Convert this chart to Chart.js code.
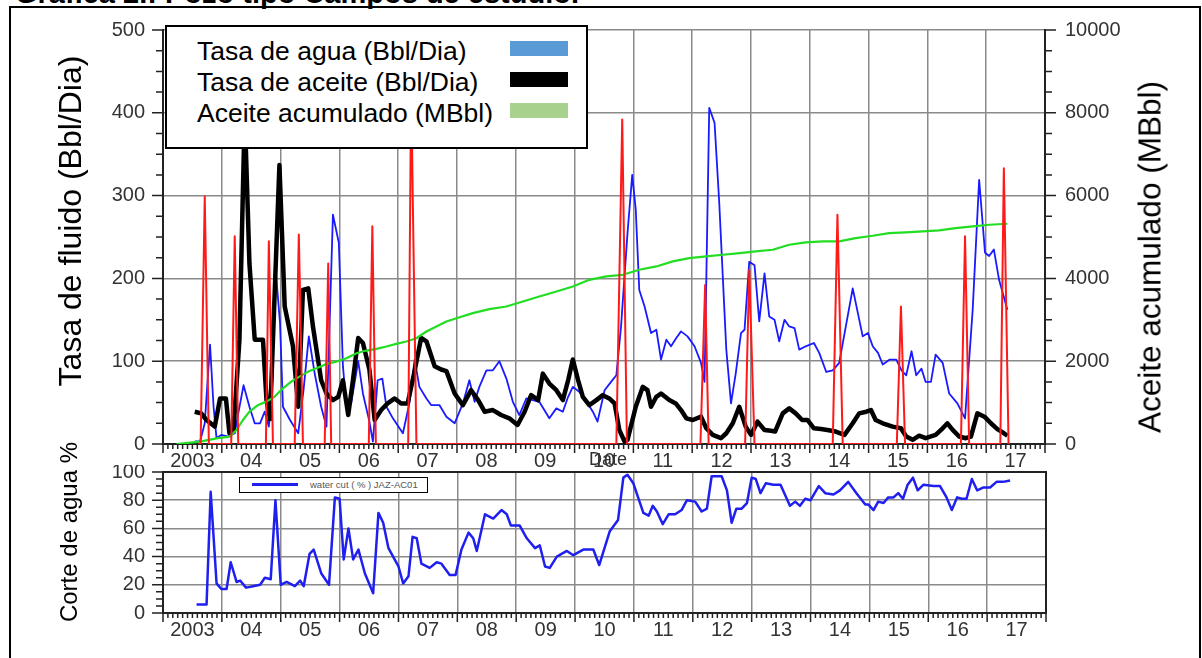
<!DOCTYPE html>
<html lang="es">
<head>
<meta charset="utf-8">
<title>Pozo tipo - Campos de estudio</title>
<script src="https://cdn.jsdelivr.net/npm/chart.js@4.4.0/dist/chart.umd.min.js"></script>
<style>
  html, body { margin: 0; padding: 0; background: #fff; overflow: hidden; }
  body { width: 1202px; height: 658px; position: relative; font-family: 'Liberation Sans', Arial, sans-serif; }
  .marco { position: absolute; left: 9px; top: 6px; width: 1192px; height: 720px; border: 2px solid #000; box-sizing: border-box; }
  .titulo { position: absolute; left: 15px; top: -21px; font-size: 29px; line-height: 29px; font-weight: bold; white-space: nowrap; }
  .caja { position: absolute; }
  #sup { left: 0; top: 0; width: 1202px; height: 490px; }
  #inf { left: 0; top: 465px; width: 1202px; height: 193px; }
  .rot { position: absolute; white-space: nowrap; transform: translate(-50%, -50%) rotate(-90deg); color: #000; }
  .leyenda { position: absolute; left: 165px; top: 25px; width: 423px; height: 124px; border: 2px solid #000; background: #fff; box-sizing: border-box; font-size: 26.5px; line-height: 31px; padding-top: 9px; }
  .fila { position: relative; padding-left: 30px; white-space: nowrap; }
  .muestra { position: absolute; left: 343px; top: 5px; width: 58px; height: 15px; }
  .ley2 { position: absolute; left: 239px; top: 477px; width: 189px; height: 16px; border: 1.5px solid #000; background: #fff; box-sizing: border-box; }
  .ley2 .linea { position: absolute; left: 12px; top: 5px; width: 46px; height: 3px; background: #1f1fef; }
  .ley2 .txt { position: absolute; left: 70px; top: 1px; font-size: 9.5px; line-height: 11px; color: #555; white-space: nowrap; }
  .fecha { position: absolute; left: 589px; top: 449px; font-size: 18px; line-height: 20px; color: #333; }
</style>
</head>
<body>
<div class="titulo">Gráfica 2.: Pozo tipo Campos de estudio.</div>
<div class="marco"></div>
<div class="caja" id="sup"><canvas id="graficaSuperior"></canvas></div>
<div class="caja" id="inf"><canvas id="graficaInferior"></canvas></div>

<div class="rot" style="left:70px; top:221px; font-size:32px;">Tasa de fluido (Bbl/Dia)</div>
<div class="rot" style="left:1150px; top:257px; font-size:31.5px;">Aceite acumulado (MBbl)</div>
<div class="rot" style="left:69px; top:532px; font-size:24px;">Corte de agua %</div>

<div class="leyenda">
  <div class="fila">Tasa de agua (Bbl/Dia)<span class="muestra" style="background:#5b9bd5"></span></div>
  <div class="fila">Tasa de aceite (Bbl/Dia)<span class="muestra" style="background:#000"></span></div>
  <div class="fila">Aceite acumulado (MBbl)<span class="muestra" style="background:#a9d18e"></span></div>
</div>
<div class="ley2"><span class="linea"></span><span class="txt">water cut ( % ) JAZ-AC01</span></div>
<div class="fecha">Date</div>

<script>
// --- datos (x en años decimales) ---
const etiquetasAnio = ['2003', '04', '05', '06', '07', '08', '09', '10', '11', '12', '13', '14', '15', '16', '17'];

const aguaAnios = [2003.54, 2003.63, 2003.71, 2003.80, 2003.86, 2003.91, 2003.99, 2004.11, 2004.22, 2004.28, 2004.37, 2004.47, 2004.56, 2004.65, 2004.73, 2004.80, 2004.86, 2004.91, 2004.99, 2005.04, 2005.16, 2005.30, 2005.39, 2005.48, 2005.58, 2005.69, 2005.78, 2005.89, 2005.99, 2006.06, 2006.12, 2006.20, 2006.32, 2006.40, 2006.51, 2006.57, 2006.65, 2006.73, 2006.80, 2006.91, 2007.08, 2007.19, 2007.28, 2007.36, 2007.48, 2007.56, 2007.70, 2007.82, 2007.96, 2008.10, 2008.21, 2008.30, 2008.38, 2008.50, 2008.61, 2008.72, 2008.84, 2008.95, 2009.06, 2009.18, 2009.29, 2009.40, 2009.57, 2009.69, 2009.80, 2009.89, 2009.97, 2010.08, 2010.19, 2010.31, 2010.39, 2010.51, 2010.62, 2010.71, 2010.79, 2010.90, 2010.98, 2011.04, 2011.10, 2011.19, 2011.30, 2011.39, 2011.47, 2011.56, 2011.64, 2011.73, 2011.81, 2011.92, 2012.04, 2012.15, 2012.21, 2012.29, 2012.38, 2012.46, 2012.58, 2012.66, 2012.74, 2012.83, 2012.89, 2012.97, 2013.06, 2013.14, 2013.23, 2013.31, 2013.40, 2013.48, 2013.57, 2013.65, 2013.74, 2013.82, 2013.93, 2014.07, 2014.16, 2014.28, 2014.39, 2014.50, 2014.73, 2014.90, 2014.99, 2015.07, 2015.16, 2015.24, 2015.36, 2015.47, 2015.56, 2015.64, 2015.73, 2015.81, 2015.90, 2015.97, 2016.06, 2016.14, 2016.26, 2016.37, 2016.51, 2016.64, 2016.77, 2016.88, 2016.98, 2017.05, 2017.13, 2017.22, 2017.36];
const aguaTasa = [3, 3, 25, 120, 45, 7, 11, 9, 13, 37, 71, 45, 25, 25, 39, 21, 77, 216, 146, 45, 29, 13, 65, 130, 85, 45, 21, 277, 243, 94, 45, 49, 100, 61, 27, 3, 77, 79, 45, 31, 13, 49, 102, 69, 55, 47, 47, 33, 25, 49, 77, 51, 69, 89, 89, 100, 79, 51, 35, 55, 53, 51, 31, 43, 39, 57, 69, 63, 53, 39, 27, 65, 75, 83, 142, 255, 325, 283, 186, 166, 134, 138, 102, 126, 118, 128, 136, 130, 118, 98, 75, 406, 388, 291, 114, 49, 85, 134, 138, 220, 216, 148, 206, 154, 150, 124, 150, 142, 140, 114, 118, 122, 110, 87, 89, 98, 188, 130, 134, 118, 110, 96, 102, 102, 89, 83, 112, 83, 91, 75, 75, 108, 98, 61, 49, 31, 162, 319, 231, 227, 235, 198, 162];

const aceiteAnios = [2003.54, 2003.65, 2003.74, 2003.88, 2003.97, 2004.07, 2004.13, 2004.20, 2004.30, 2004.39, 2004.47, 2004.56, 2004.70, 2004.76, 2004.82, 2004.98, 2005.07, 2005.21, 2005.30, 2005.38, 2005.47, 2005.55, 2005.69, 2005.78, 2005.89, 2005.98, 2006.06, 2006.15, 2006.23, 2006.32, 2006.40, 2006.51, 2006.60, 2006.71, 2006.82, 2006.94, 2007.05, 2007.16, 2007.27, 2007.39, 2007.48, 2007.62, 2007.73, 2007.82, 2007.96, 2008.10, 2008.24, 2008.36, 2008.47, 2008.61, 2008.75, 2008.89, 2009.03, 2009.15, 2009.26, 2009.38, 2009.46, 2009.57, 2009.69, 2009.80, 2009.89, 2009.97, 2010.06, 2010.14, 2010.25, 2010.37, 2010.48, 2010.59, 2010.68, 2010.76, 2010.85, 2010.90, 2011.04, 2011.16, 2011.24, 2011.30, 2011.39, 2011.47, 2011.61, 2011.72, 2011.81, 2011.90, 2012.01, 2012.15, 2012.24, 2012.35, 2012.49, 2012.58, 2012.69, 2012.80, 2012.91, 2013.00, 2013.11, 2013.23, 2013.34, 2013.41, 2013.54, 2013.65, 2013.76, 2013.87, 2013.96, 2014.07, 2014.19, 2014.30, 2014.44, 2014.59, 2014.73, 2014.84, 2014.96, 2015.04, 2015.12, 2015.24, 2015.41, 2015.55, 2015.64, 2015.75, 2015.86, 2015.97, 2016.14, 2016.26, 2016.34, 2016.43, 2016.54, 2016.65, 2016.74, 2016.85, 2016.97, 2017.08, 2017.19, 2017.28, 2017.36];
const aceiteTasa = [39, 37, 29, 21, 55, 55, 13, 17, 126, 400, 218, 126, 126, 53, 30, 337, 166, 118, 45, 186, 188, 142, 77, 61, 53, 57, 77, 35, 77, 128, 122, 90, 29, 41, 49, 55, 49, 49, 85, 128, 124, 94, 90, 88, 61, 47, 65, 53, 39, 41, 35, 31, 23, 39, 59, 53, 85, 73, 65, 53, 77, 102, 77, 57, 47, 53, 59, 55, 49, 17, 3, 5, 45, 69, 65, 45, 57, 61, 53, 49, 41, 31, 29, 33, 19, 11, 7, 13, 25, 45, 21, 11, 27, 17, 16, 15, 37, 43, 37, 29, 29, 19, 18, 17, 15, 11, 25, 37, 39, 41, 29, 25, 21, 19, 9, 5, 10, 7, 11, 19, 25, 17, 9, 7, 9, 37, 33, 25, 18, 14, 10];

const acumAnios = [2003.23, 2003.63, 2003.91, 2004.13, 2004.25, 2004.36, 2004.47, 2004.62, 2004.76, 2004.90, 2005.04, 2005.18, 2005.32, 2005.47, 2005.61, 2005.78, 2005.95, 2006.12, 2006.29, 2006.46, 2006.63, 2006.80, 2006.97, 2007.14, 2007.31, 2007.48, 2007.65, 2007.82, 2007.99, 2008.27, 2008.55, 2008.84, 2009.12, 2009.40, 2009.69, 2009.97, 2010.25, 2010.54, 2010.82, 2011.10, 2011.39, 2011.67, 2011.95, 2012.24, 2012.52, 2012.81, 2013.08, 2013.37, 2013.65, 2013.93, 2014.22, 2014.50, 2014.78, 2015.07, 2015.35, 2015.63, 2015.92, 2016.20, 2016.48, 2016.77, 2017.05, 2017.36];
const acumVal = [0, 56, 137, 177, 339, 580, 782, 943, 1024, 1145, 1346, 1507, 1628, 1749, 1830, 1935, 1991, 2072, 2193, 2257, 2297, 2354, 2418, 2475, 2555, 2717, 2838, 2958, 3039, 3160, 3257, 3321, 3442, 3563, 3684, 3805, 3966, 4047, 4087, 4208, 4289, 4410, 4490, 4530, 4571, 4611, 4651, 4692, 4813, 4869, 4893, 4893, 4974, 5030, 5095, 5111, 5135, 5159, 5216, 5256, 5296, 5320];

// serie roja (picos sin leyenda)
const rojoAnios = [2003.60, 2003.64, 2003.71, 2003.78, 2004.16, 2004.22, 2004.28, 2004.75, 2004.80, 2004.87, 2005.24, 2005.31, 2005.38, 2005.75, 2005.81, 2005.86, 2006.50, 2006.56, 2006.62, 2007.17, 2007.22, 2007.31, 2010.71, 2010.81, 2010.89, 2012.14, 2012.22, 2012.28, 2012.90, 2012.97, 2013.06, 2014.39, 2014.47, 2014.56, 2015.48, 2015.55, 2015.62, 2016.57, 2016.64, 2016.71, 2017.24, 2017.30, 2017.38];
const rojoVal = [0, 0, 299, 0, 0, 251, 0, 0, 245, 0, 0, 253, 0, 0, 218, 0, 0, 263, 0, 0, 430, 0, 0, 392, 0, 0, 192, 0, 0, 210, 0, 0, 277, 0, 0, 166, 0, 0, 251, 0, 0, 333, 0];

const corteAnios = [2003.57, 2003.74, 2003.81, 2003.91, 2003.99, 2004.08, 2004.15, 2004.25, 2004.31, 2004.41, 2004.53, 2004.65, 2004.73, 2004.83, 2004.91, 2005.00, 2005.10, 2005.24, 2005.33, 2005.39, 2005.49, 2005.56, 2005.69, 2005.82, 2005.92, 2006.00, 2006.07, 2006.15, 2006.23, 2006.32, 2006.43, 2006.57, 2006.66, 2006.74, 2006.83, 2007.00, 2007.08, 2007.17, 2007.24, 2007.31, 2007.39, 2007.53, 2007.65, 2007.73, 2007.87, 2007.97, 2008.07, 2008.19, 2008.27, 2008.33, 2008.47, 2008.61, 2008.75, 2008.84, 2008.91, 2009.06, 2009.18, 2009.32, 2009.40, 2009.49, 2009.57, 2009.69, 2009.86, 2009.97, 2010.14, 2010.31, 2010.41, 2010.59, 2010.73, 2010.82, 2010.89, 2010.99, 2011.16, 2011.25, 2011.32, 2011.39, 2011.49, 2011.59, 2011.70, 2011.81, 2011.90, 2012.04, 2012.15, 2012.24, 2012.32, 2012.49, 2012.58, 2012.66, 2012.74, 2012.83, 2012.92, 2013.00, 2013.07, 2013.15, 2013.24, 2013.37, 2013.49, 2013.65, 2013.74, 2013.82, 2013.91, 2014.00, 2014.14, 2014.25, 2014.39, 2014.50, 2014.64, 2014.78, 2014.93, 2014.98, 2015.07, 2015.15, 2015.24, 2015.32, 2015.41, 2015.49, 2015.57, 2015.65, 2015.74, 2015.82, 2015.92, 2016.09, 2016.20, 2016.31, 2016.40, 2016.49, 2016.57, 2016.65, 2016.74, 2016.83, 2016.93, 2017.05, 2017.16, 2017.27, 2017.39];
const corteVal = [6, 6, 86, 21, 17, 17, 36, 22, 23, 18, 19, 20, 25, 24, 80, 20, 22, 19, 23, 19, 42, 45, 28, 20, 82, 81, 38, 60, 38, 45, 28, 14, 71, 64, 46, 33, 21, 26, 54, 53, 35, 32, 36, 35, 27, 27, 45, 57, 53, 44, 70, 67, 73, 70, 62, 62, 53, 46, 48, 33, 32, 40, 44, 41, 45, 45, 34, 58, 66, 96, 98, 92, 71, 69, 76, 72, 63, 70, 70, 73, 80, 79, 72, 74, 97, 97, 87, 64, 74, 74, 78, 96, 95, 85, 92, 91, 91, 76, 79, 76, 81, 80, 90, 85, 84, 87, 93, 85, 77, 77, 73, 79, 78, 82, 82, 85, 81, 91, 96, 87, 91, 90, 90, 82, 73, 82, 81, 81, 95, 87, 89, 89, 93, 93, 94];

const puntos = (xs, ys) => xs.map((x, i) => ({ x: x, y: ys[i] }));

Chart.defaults.font.family = "'Liberation Sans', Arial, sans-serif";
Chart.defaults.color = '#333';

const GRIS = '#8a8a8a';
const EJE = '#222';

// marcas de los ejes (meses en X, menores en Y) y caja opcional
function crearMarcas(ejesY, caja) {
    return {
        id: 'marcas',
        afterDraw(chart) {
            const { ctx, chartArea: area, scales } = chart;
            ctx.save();
            ctx.strokeStyle = EJE;
            ctx.lineWidth = 1.5;
            ctx.beginPath();
            for (let m = 0; m <= 15 * 12; m++) {
                const px = scales.x.getPixelForValue(2003 + m / 12);
                const largo = m % 12 === 0 ? 9 : 5;
                ctx.moveTo(px, area.bottom);
                ctx.lineTo(px, area.bottom + largo);
            }
            ejesY.forEach(e => {
                const eje = scales[e.id];
                const x0 = e.lado === 'left' ? area.left : area.right;
                const dir = e.lado === 'left' ? -1 : 1;
                for (let v = eje.min; v <= eje.max; v += e.paso) {
                    const py = eje.getPixelForValue(v);
                    const largo = v % e.mayor === 0 ? 11 : 7;
                    ctx.moveTo(x0, py);
                    ctx.lineTo(x0 + dir * largo, py);
                }
            });
            ctx.stroke();
            if (caja) {
                ctx.lineWidth = 2;
                ctx.strokeRect(area.left, area.top, area.width, area.height);
            }
            ctx.restore();
        }
    };
}

// ancho fijo del eje Y y sin relleno extra arriba/abajo
function anchoFijo(ancho) {
    return eje => {
        eje.width = ancho;
        eje.paddingTop = 0;
        eje.paddingBottom = 0;
    };
}

// eje X compartido: lineas en cada año, etiqueta a mitad de año
function ejeAnios(alto) {
    const marcas = [];
    for (let k = 0; k <= 30; k++) marcas.push(2003 + k / 2);
    return {
        type: 'linear',
        min: 2003,
        max: 2018,
        afterBuildTicks: eje => { eje.ticks = marcas.map(v => ({ value: v })); },
        afterFit: eje => { eje.height = alto; eje.paddingLeft = 0; eje.paddingRight = 0; },
        ticks: {
            autoSkip: false,
            maxRotation: 0,
            padding: 5,
            color: '#333',
            font: { size: 20 },
            callback: v => (Number.isInteger(v) ? '' : etiquetasAnio[Math.floor(v) - 2003])
        },
        grid: {
            drawTicks: false,
            lineWidth: 1.5,
            color: c => (Number.isInteger(c.tick.value) ? GRIS : 'rgba(0,0,0,0)')
        },
        border: { color: EJE, width: 2 }
    };
}

new Chart(document.getElementById('graficaSuperior'), {
    type: 'line',
    data: {
        datasets: [
            { label: 'Serie roja', data: puntos(rojoAnios, rojoVal), yAxisID: 'y', borderColor: '#ff1a1a', borderWidth: 2 },
            { label: 'Aceite acumulado (MBbl)', data: puntos(acumAnios, acumVal), yAxisID: 'y1', borderColor: '#22dd22', borderWidth: 2.2 },
            { label: 'Tasa de aceite (Bbl/Dia)', data: puntos(aceiteAnios, aceiteTasa), yAxisID: 'y', borderColor: '#000000', borderWidth: 4.5 },
            { label: 'Tasa de agua (Bbl/Dia)', data: puntos(aguaAnios, aguaTasa), yAxisID: 'y', borderColor: '#1a1aff', borderWidth: 1.8 }
        ]
    },
    options: {
        responsive: true,
        maintainAspectRatio: false,
        animation: false,
        devicePixelRatio: 1,
        layout: { padding: { top: 30, left: 0, right: 0, bottom: 0 } },
        elements: { point: { radius: 0 }, line: { tension: 0, borderJoinStyle: 'round' } },
        plugins: { legend: { display: false }, tooltip: { enabled: false } },
        scales: {
            x: ejeAnios(46),
            y: {
                type: 'linear',
                position: 'left',
                min: 0,
                max: 500,
                afterFit: anchoFijo(163),
                ticks: { stepSize: 100, autoSkip: false, padding: 18, color: '#333', font: { size: 20 } },
                grid: { drawTicks: false, lineWidth: 1.5, color: c => (c.tick.value === 0 ? 'rgba(0,0,0,0)' : GRIS) },
                border: { color: EJE, width: 2 }
            },
            y1: {
                type: 'linear',
                position: 'right',
                min: 0,
                max: 10000,
                afterFit: anchoFijo(157),
                ticks: { stepSize: 2000, autoSkip: false, padding: 20, color: '#333', font: { size: 20 }, callback: v => String(v) },
                grid: { drawTicks: false, drawOnChartArea: false },
                border: { color: EJE, width: 2 }
            }
        }
    },
    plugins: [crearMarcas([{ id: 'y', paso: 25, mayor: 100, lado: 'left' }, { id: 'y1', paso: 500, mayor: 2000, lado: 'right' }], false)]
});

new Chart(document.getElementById('graficaInferior'), {
    type: 'line',
    data: {
        datasets: [
            { label: 'water cut ( % ) JAZ-AC01', data: puntos(corteAnios, corteVal), borderColor: '#1f1fef', borderWidth: 2.5 }
        ]
    },
    options: {
        responsive: true,
        maintainAspectRatio: false,
        animation: false,
        devicePixelRatio: 1,
        layout: { padding: { top: 7, left: 0, right: 156, bottom: 0 } },
        elements: { point: { radius: 0 }, line: { tension: 0, borderJoinStyle: 'round' } },
        plugins: { legend: { display: false }, tooltip: { enabled: false } },
        scales: {
            x: ejeAnios(45),
            y: {
                type: 'linear',
                position: 'left',
                min: 0,
                max: 100,
                afterFit: anchoFijo(163),
                ticks: { stepSize: 20, autoSkip: false, padding: 18, color: '#333', font: { size: 20 } },
                grid: { drawTicks: false, lineWidth: 1.5, color: c => (c.tick.value === 0 || c.tick.value === 100 ? 'rgba(0,0,0,0)' : GRIS) },
                border: { color: EJE, width: 2 }
            }
        }
    },
    plugins: [crearMarcas([{ id: 'y', paso: 5, mayor: 20, lado: 'left' }], true)]
});
</script>
</body>
</html>
